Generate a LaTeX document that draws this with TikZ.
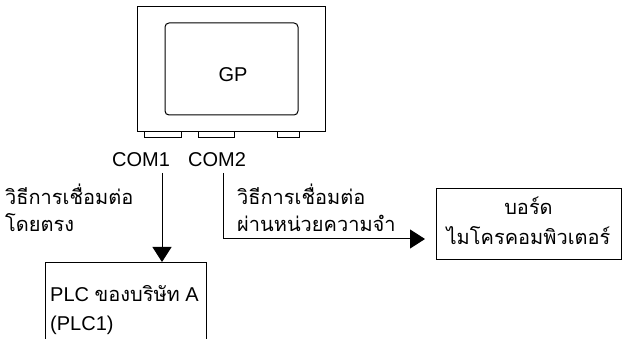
\documentclass[tikz,border=0pt]{standalone}
\usepackage{fontspec}
\setmainfont{Liberation Sans}
\newfontfamily\thaifont[Script=Thai]{Loma}
\usetikzlibrary{arrows.meta}
\tikzset{
  box/.style={draw, line width=1pt},
  conn/.style={draw, line width=1pt},
  tip/.style={-{Triangle[length=15pt,width=19pt]}},
  lbl/.style={font=\fontsize{20}{28}\selectfont, inner sep=0pt, anchor=base west},
  tlbl/.style={font=\fontsize{20}{28}\selectfont\thaifont, inner sep=0pt, anchor=base west},
}
\begin{document}
\begin{tikzpicture}[x=1pt,y=-1pt]
\useasboundingbox (0,0) rectangle (622,339);
% GP unit
\draw[box] (137,7) rectangle (325,132);
\draw[box, rounded corners=4pt] (165,23) rectangle (298,115);
\node[font=\fontsize{20}{24}\selectfont, inner sep=0pt, anchor=base] (gp) at (233,82) {GP};
\draw[box] (144,132) rectangle (181,138);
\draw[box] (198,132) rectangle (234,138);
\draw[box] (277,132) rectangle (299,138);
\node[lbl] (com1) at (112,167) {COM1};
\node[lbl] (com2) at (188,167) {COM2};
% coordinates
\coordinate (c1) at (162,173);
\coordinate (c2) at (223,173);
\coordinate (bend) at (223,239);
\coordinate (end2) at (425,239);
% PLC box
\node[box, anchor=north west, minimum width=161pt, minimum height=77pt, inner sep=0pt] (plc) at (45,262) {};
\node[lbl] (plc1) at (50,302) {PLC {\thaifont ของบริษัท} A};
\node[lbl] (plc2) at (50,331) {(PLC1)};
% board box
\node[box, minimum width=185pt, minimum height=71pt, inner sep=0pt] (board) at (528.5,224.5) {};
\node[tlbl, anchor=base] (b1) at (528.5,215) {บอร์ด};
\node[tlbl, anchor=base] (b2) at (528.5,245) {ไมโครคอมพิวเตอร์};
% connectors
\draw[conn, tip] (c1) -- (plc.north -| c1);
\draw[conn, tip] (c2) -- (bend) -- (end2);
% labels
\node[tlbl] (l1a) at (5,205) {วิธีการเชื่อมต่อ};
\node[tlbl] (l1b) at (5,232) {โดยตรง};
\node[tlbl] (l2a) at (237,205) {วิธีการเชื่อมต่อ};
\node[tlbl] (l2b) at (237,232) {ผ่านหน่วยความจำ};
\end{tikzpicture}
\end{document}
